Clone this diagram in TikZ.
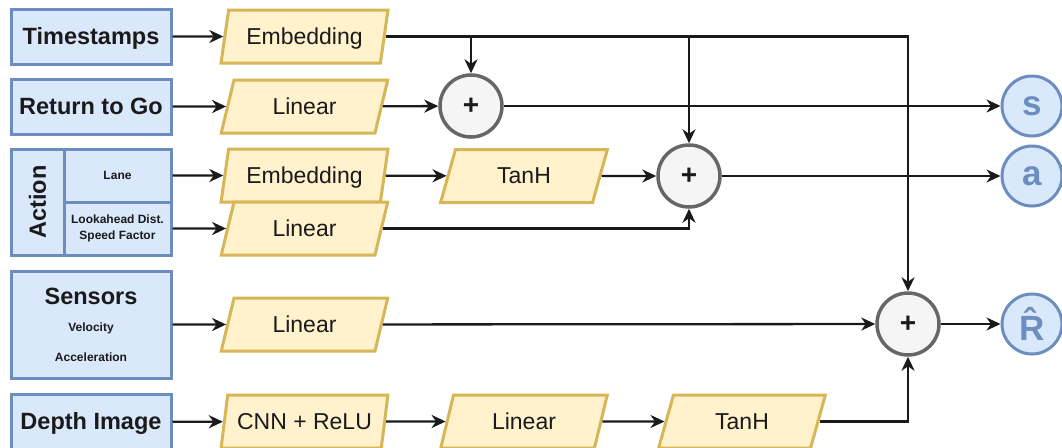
\documentclass[tikz,border=0pt]{standalone}
\usepackage{fontspec}
\setmainfont{Liberation Sans}
\usetikzlibrary{shapes.geometric,arrows.meta}
\definecolor{bfill}{HTML}{DAE8FC}
\definecolor{bdraw}{HTML}{6C8EBF}
\definecolor{yfill}{HTML}{FFF2CC}
\definecolor{ydraw}{HTML}{D6B656}
\definecolor{gfill}{HTML}{F5F5F5}
\definecolor{gdraw}{HTML}{666666}
\definecolor{txt}{HTML}{1A1A1A}
\tikzset{
  big/.style={font=\fontsize{23}{26}\selectfont, text height=17pt, text depth=2pt},
  bigb/.style={font=\bfseries\fontsize{23.5}{26}\selectfont, text height=17pt, text depth=2pt},
  small/.style={font=\bfseries\fontsize{12}{15}\selectfont},
  inbox/.style={draw=bdraw, fill=bfill, line width=3pt, inner sep=0pt, text=txt, align=center},
  para/.style={trapezium, trapezium left angle=73, trapezium right angle=107,
    trapezium stretches=true, minimum width=167pt, minimum height=53pt,
    draw=ydraw, fill=yfill, line width=3pt, inner sep=0pt, text=txt, big},
  sum/.style={circle, draw=gdraw, fill=gfill, line width=3.5pt, minimum size=62pt,
    inner sep=0pt, text=txt, font=\bfseries\fontsize{28}{30}\selectfont},
  outc/.style={circle, draw=bdraw, fill=bfill, line width=3pt, minimum size=60pt,
    inner sep=0pt, text=bdraw, font=\bfseries\fontsize{35}{38}\selectfont},
  arr/.style={draw=txt, line width=2.3pt, -{Stealth[length=14pt,width=13pt,inset=4.5pt]}}
}
\begin{document}
\begin{tikzpicture}[x=1pt,y=-1pt]
\useasboundingbox (0,0) rectangle (1062,447);
% input boxes
\node[inbox, bigb, minimum width=160pt, minimum height=55pt] (ts) at (91,36.5) {Timestamps};
\node[inbox, bigb, minimum width=160pt, minimum height=55pt] (rtg) at (91,106.5) {Return to Go};
\node[inbox, minimum width=53pt, minimum height=106pt] (act) at (37.5,202) {};
\node[rotate=90, text=txt, font=\bfseries\fontsize{23.5}{26}\selectfont] (acttxt) at (act.center) {Action};
\node[inbox, small, minimum width=107pt, minimum height=53pt] (lane) at (117.5,175.5) {Lane};
\node[inbox, small, minimum width=107pt, minimum height=53pt] (look) at (117.5,228.5) {Lookahead Dist.\\[1pt]Speed Factor};
\node[inbox, minimum width=160pt, minimum height=107pt] (sens) at (91,324.5) {};
\node[text=txt, bigb] (senst) at (91,297) {Sensors};
\node[text=txt, small] (vel) at (91,328) {Velocity};
\node[text=txt, small] (acc) at (91,357) {Acceleration};
\node[inbox, bigb, minimum width=160pt, minimum height=56pt] (depth) at (91,422) {Depth Image};
% layers
\node[para] (emb1) at (304.5,36.5) {Embedding};
\node[para] (lin1) at (304.5,106.5) {Linear};
\node[para] (emb2) at (304.5,175.5) {Embedding};
\node[para] (lin2) at (304.5,228.5) {Linear};
\node[para] (lin3) at (304.5,324.5) {Linear};
\node[para] (cnn) at (304.5,421.5) {CNN + ReLU};
\node[para] (tanh1) at (524,176) {TanH};
\node[para] (lin4) at (524,421.5) {Linear};
\node[para] (tanh2) at (742,421.5) {TanH};
% sums
\node[sum] (p1) at (471,106) {+};
\node[sum] (p2) at (689,176) {+};
\node[sum] (p3) at (908,324) {+};
% outputs
\node[outc] (s) at (1032,106) {s};
\node[outc] (a) at (1032,176) {a};
\node[outc] (R) at (1032,324) {\^{R}};
% connectors
\draw[arr] (ts) -- (emb1);
\draw[arr] (emb1) -| (p3);
\draw[arr] (emb1.east -| p1) -- (p1);
\draw[arr] (emb1.east -| p2) -- (p2);
\draw[arr] (rtg) -- (lin1);
\draw[arr] (lin1) -- (p1);
\draw[arr] (p1) -- (s);
\draw[arr] (lane) -- (emb2);
\draw[arr] (emb2) -- (tanh1);
\draw[arr] (tanh1) -- (p2);
\draw[arr] (p2) -- (a);
\draw[arr] (look) -- (lin2);
\draw[arr] (lin2) -| (p2);
\draw[arr] (sens) -- (lin3);
\draw[arr] (lin3) -- (p3);
\draw[arr] (p3) -- (R);
\draw[arr] (depth) -- (cnn);
\draw[arr] (cnn) -- (lin4);
\draw[arr] (lin4) -- (tanh2);
\draw[arr] (tanh2) -| (p3);
\end{tikzpicture}
\end{document}
